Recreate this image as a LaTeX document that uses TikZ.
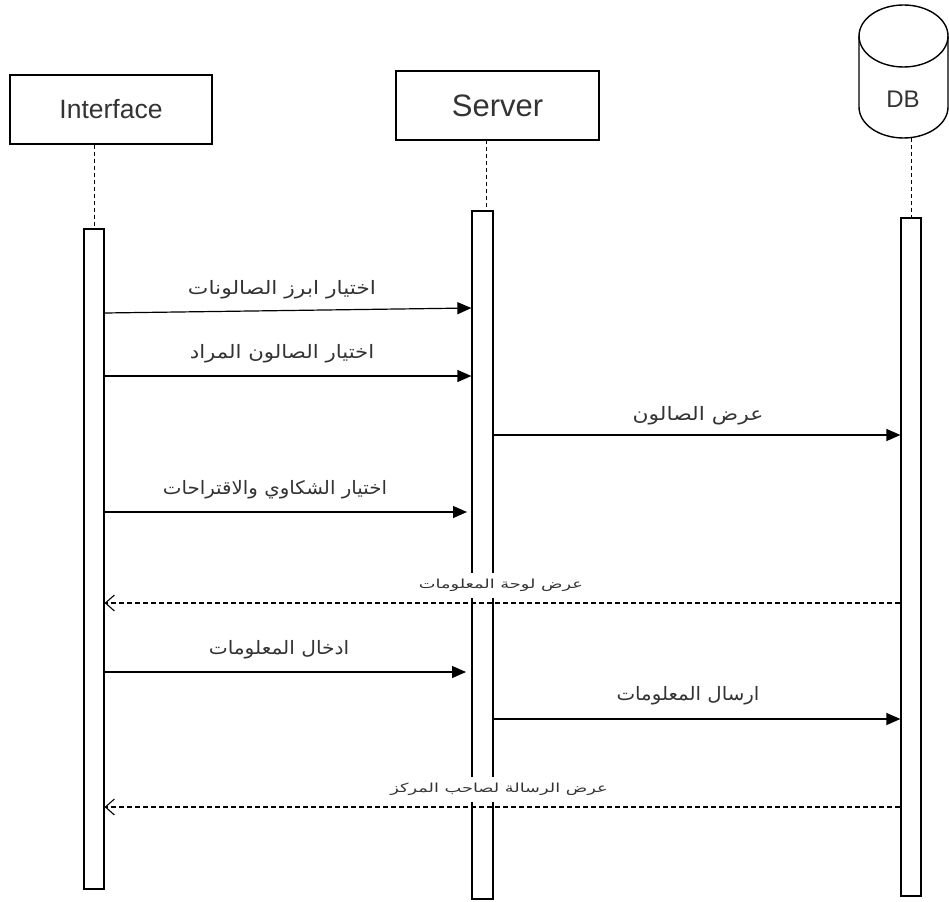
\documentclass[tikz,border=0pt]{standalone}
\usepackage{fontspec}
\usepackage{graphicx}
\setmainfont{Liberation Sans}
\newfontfamily\arabicfont[Script=Arabic]{DejaVu Sans}
\TeXXeTstate=1
\usetikzlibrary{arrows.meta}
\definecolor{txt}{HTML}{333333}
% Arabic label, widened horizontally by the given factor
\newcommand{\ar}[2][1.18]{\scalebox{#1}[1]{\arabicfont\beginR #2\endR}}
\tikzset{
  headbox/.style={draw, line width=1.4pt, minimum width=202pt, minimum height=69pt, inner sep=0pt, text=txt},
  actbar/.style={draw, line width=1.2pt, fill=white, minimum width=20pt, inner sep=0pt},
  lifeline/.style={line width=0.9pt, dash pattern=on 4pt off 3pt},
  call/.style={line width=1.2pt, -{Triangle[length=14pt,width=12pt]}},
  reply/.style={line width=1.1pt, dash pattern=on 5pt off 3pt, -{Straight Barb[length=9pt,width=16pt,line width=1.1pt]}},
  calllbl/.style={inner sep=0pt, text=txt, font=\fontsize{18.5}{22}\selectfont},
  replylbl/.style={fill=white, inner xsep=3pt, inner ysep=0pt, minimum height=25pt, text=txt, font=\fontsize{12.5}{15}\selectfont}
}
\begin{document}
\begin{tikzpicture}[x=1pt, y=-1pt]
\useasboundingbox (0,0) rectangle (949,901);

% participant heads
\node[headbox, font=\fontsize{26.5}{31}\selectfont] (ibox) at (111,109.5) {Interface};
\node[headbox, minimum width=203pt, font=\fontsize{31}{36}\selectfont] (sbox) at (497.5,105.5) {Server};

% database cylinder
\draw[line width=1.4pt] (903.5,36) ellipse [x radius=44.5, y radius=31];
\draw[line width=1.4pt] (859,36) -- (859,107)
  .. controls (859,124.1) and (878.9,138) .. (903.5,138)
  .. controls (928.1,138) and (948,124.1) .. (948,107) -- (948,36);
\node[inner sep=0pt, text=txt, font=\fontsize{24}{28}\selectfont] (db) at (903,99.5) {DB};

% activation bars
\node[actbar, minimum height=660pt] (ia) at (94,559) {};
\node[actbar, minimum width=21pt, minimum height=688pt] (sa) at (482.5,555) {};
\node[actbar, minimum height=678pt] (da) at (911,557) {};

% lifelines
\draw[lifeline] (ia.north |- ibox.south) -- (ia.north);
\draw[lifeline] (486,140) -- (486,211);
\draw[lifeline] (da.north |- 0,138) -- (da.north);

% messages
\draw[call] (ia.east |- 0,313) -- (sa.west |- 0,308);
\node[calllbl] (m1) at (282,290) {\ar{اختيار ابرز الصالونات}};

\draw[call] (ia.east |- 0,376) -- (sa.west |- 0,376);
\node[calllbl] (m2) at (282,354) {\ar[1.15]{اختيار الصالون المراد}};

\draw[call] (sa.east |- 0,435) -- (da.west |- 0,435);
\node[calllbl] (m3) at (698,416) {\ar{عرض الصالون}};

\draw[call] (ia.east |- 0,512) -- (467,512);
\node[calllbl] (m4) at (275,490) {\ar[1.07]{اختيار الشكاوي والاقتراحات}};

\draw[reply] (da.west |- 0,603) -- (ia.east |- 0,603);
\node[replylbl] (r1) at (501,585) {\ar[1.42]{عرض لوحة المعلومات}};

\draw[call] (ia.east |- 0,672) -- (466,672);
\node[calllbl] (m5) at (279,650) {\ar[1.09]{ادخال المعلومات}};

\draw[call] (sa.east |- 0,719) -- (da.west |- 0,719);
\node[calllbl] (m6) at (688,696) {\ar[1.07]{ارسال المعلومات}};

\draw[reply] (da.west |- 0,807) -- (ia.east |- 0,807);
\node[replylbl] (r2) at (499,789) {\ar[1.42]{عرض الرسالة لصاحب المركز}};
\end{tikzpicture}
\end{document}
